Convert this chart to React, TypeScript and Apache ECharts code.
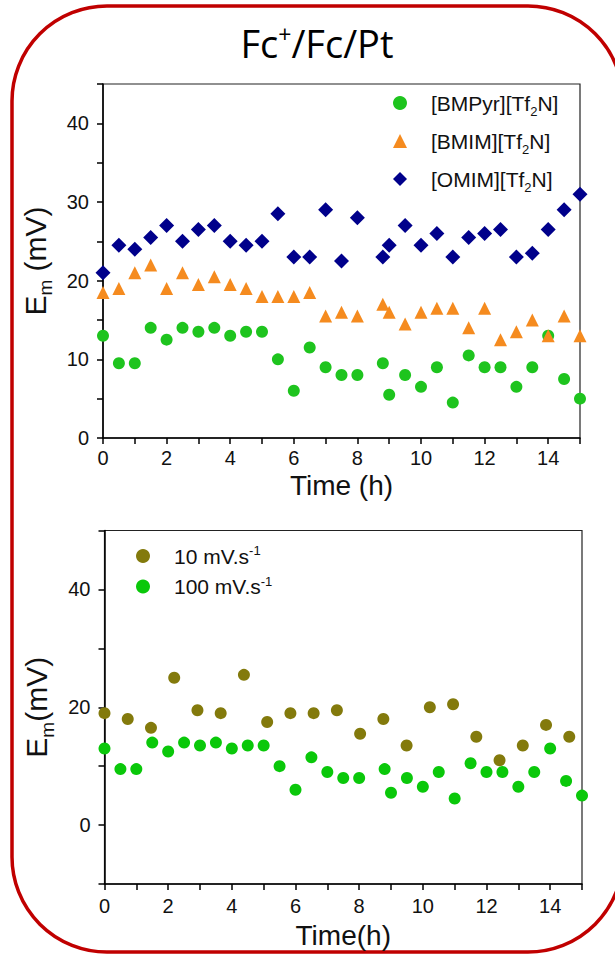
import React, { useEffect, useRef } from "react";
import * as echarts from "echarts";

const timesTop = [0, 0.5, 1, 1.5, 2, 2.5, 3, 3.5, 4, 4.5, 5, 5.5, 6, 6.5, 7, 7.5, 8, 8.8, 9, 9.5, 10, 10.5, 11, 11.5, 12, 12.5, 13, 13.5, 14, 14.5, 15];
const bmpyr = [13, 9.5, 9.5, 14, 12.5, 14, 13.5, 14, 13, 13.5, 13.5, 10, 6, 11.5, 9, 8, 8, 9.5, 5.5, 8, 6.5, 9, 4.5, 10.5, 9, 9, 6.5, 9, 13, 7.5, 5];
const bmim = [18.5, 19, 21, 22, 19, 21, 19.5, 20.5, 19.5, 19, 18, 18, 18, 18.5, 15.5, 16, 15.5, 17, 16, 14.5, 16, 16.5, 16.5, 14, 16.5, 12.5, 13.5, 15, 13, 15.5, 13];
const omim = [21, 24.5, 24, 25.5, 27, 25, 26.5, 27, 25, 24.5, 25, 28.5, 23, 23, 29, 22.5, 28, 23, 24.5, 27, 24.5, 26, 23, 25.5, 26, 26.5, 23, 23.5, 26.5, 29, 31];

const timesSlow = [0, 0.73, 1.46, 2.19, 2.92, 3.65, 4.38, 5.11, 5.84, 6.57, 7.3, 8.03, 8.76, 9.49, 10.22, 10.95, 11.68, 12.41, 13.14, 13.87, 14.6];
const slow = [19, 18, 16.5, 25, 19.5, 19, 25.5, 17.5, 19, 19, 19.5, 15.5, 18, 13.5, 20, 20.5, 15, 11, 13.5, 17, 15];
const fast = bmpyr;

const FONT = "Liberation Sans, Arial, sans-serif";

function pairs(xs: number[], ys: number[]) {
  return xs.map((x, i) => [x, ys[i]]);
}

export default function App() {
  const ref = useRef<HTMLDivElement>(null);
  useEffect(() => {
    document.body.style.margin = "0";
    const chart = echarts.init(ref.current!, null, { renderer: "svg" });
    const richBase = {
      a: { fontSize: 21, fontFamily: FONT, color: "#111", lineHeight: 24 },
      sub: { fontSize: 13, fontFamily: FONT, color: "#111", lineHeight: 10, verticalAlign: "top", padding: [14, 0, 0, 0] },
      sup: { fontSize: 13, fontFamily: FONT, color: "#111", lineHeight: 10, verticalAlign: "top" },
    };
    const nameRich = {
      a: { fontSize: 30, fontFamily: FONT, color: "#111", lineHeight: 32 },
      sub: { fontSize: 19, fontFamily: FONT, color: "#111", lineHeight: 10, verticalAlign: "top", padding: [17, 0, 0, 0] },
    };
    const axisCommon = {
      axisLine: { onZero: false, lineStyle: { color: "#000", width: 1.5 } },
      axisTick: { show: true, inside: false, length: 6, lineStyle: { color: "#000", width: 1.5 } },
      splitLine: { show: false },
      axisLabel: { fontSize: 20, fontFamily: FONT, color: "#111" },
    };
    const option: any = {
      animation: false,
      backgroundColor: "#fff",
      graphic: [
        {
          type: "rect",
          shape: { x: 12, y: 6, width: 611, height: 946, r: 95 },
          style: { fill: "none", stroke: "#c00000", lineWidth: 3.5 },
          silent: true,
        },
        {
          type: "text",
          x: 317,
          y: 64,
          style: {
            text: "{a|Fc}{s|+}{a|/Fc/Pt}",
            textAlign: "center",
            textVerticalAlign: "bottom",
            rich: {
              a: { fontSize: 38, fontFamily: "Open Sans, sans-serif", color: "#000", lineHeight: 42 },
              s: { fontSize: 23, fontFamily: "Open Sans, sans-serif", color: "#000", lineHeight: 20, verticalAlign: "top" },
            },
          },
        },
      ],
      grid: [
        { left: 103, top: 84, width: 477, height: 354, show: true, borderColor: "#222", borderWidth: 1.2, backgroundColor: "transparent" },
        { left: 104.5, top: 530.5, width: 477.5, height: 353.5, show: true, borderColor: "#222", borderWidth: 1.2, backgroundColor: "transparent" },
      ],
      xAxis: [
        {
          ...axisCommon,
          type: "value",
          gridIndex: 0,
          min: 0,
          max: 15,
          interval: 1,
          axisLabel: { ...axisCommon.axisLabel, margin: 10, formatter: (v: number) => (v % 2 === 0 ? String(v) : "") },
          name: "Time (h)",
          nameLocation: "middle",
          nameGap: 33,
          nameTextStyle: { fontSize: 28, fontFamily: FONT, color: "#111" },
        },
        {
          ...axisCommon,
          type: "value",
          gridIndex: 1,
          min: 0,
          max: 15,
          interval: 1,
          axisLabel: { ...axisCommon.axisLabel, margin: 12, formatter: (v: number) => (v % 2 === 0 ? String(v) : "") },
          name: "Time(h)",
          nameLocation: "middle",
          nameGap: 37,
          nameTextStyle: { fontSize: 28, fontFamily: FONT, color: "#111" },
        },
      ],
      yAxis: [
        {
          ...axisCommon,
          type: "value",
          gridIndex: 0,
          min: 0,
          max: 45,
          interval: 5,
          axisLabel: { ...axisCommon.axisLabel, margin: 14, formatter: (v: number) => (v % 10 === 0 ? String(v) : "") },
          name: "{a|E}{sub|m}{a| (mV)}",
          nameLocation: "middle",
          nameRotate: 90,
          nameGap: 52,
          nameTextStyle: { rich: nameRich },
        },
        {
          ...axisCommon,
          type: "value",
          gridIndex: 1,
          min: -10,
          max: 50,
          interval: 10,
          axisLabel: {
            ...axisCommon.axisLabel,
            margin: 14,
            formatter: (v: number) => (v >= 0 && v <= 40 && v % 20 === 0 ? String(v) : ""),
          },
          name: "{a|E}{sub|m}{a|(mV)}",
          nameLocation: "middle",
          nameRotate: 90,
          nameGap: 52,
          nameTextStyle: { rich: nameRich },
        },
      ],
      legend: [
        {
          orient: "vertical",
          left: 388,
          top: 86,
          itemWidth: 14,
          itemHeight: 14,
          itemGap: 11,
          data: ["BMPyr", "BMIM", "OMIM"],
          formatter: (n: string) => `{a|[${n}][Tf}{sub|2}{a|N]}`,
          textStyle: { rich: richBase, padding: [0, 0, 0, 19] },
        },
        {
          orient: "vertical",
          left: 131,
          top: 539,
          itemWidth: 14,
          itemHeight: 14,
          itemGap: 8,
          data: ["10", "100"],
          formatter: (n: string) => `{a|${n} mV.s}{sup|-1}`,
          textStyle: { rich: richBase, padding: [0, 0, 0, 19] },
        },
      ],
      series: [
        {
          name: "BMPyr",
          type: "scatter",
          xAxisIndex: 0,
          yAxisIndex: 0,
          symbol: "circle",
          symbolSize: 12,
          itemStyle: { color: "#1ec41e", opacity: 1 },
          data: pairs(timesTop, bmpyr),
        },
        {
          name: "BMIM",
          type: "scatter",
          xAxisIndex: 0,
          yAxisIndex: 0,
          symbol: "triangle",
          symbolSize: 13,
          itemStyle: { color: "#f58b1f", opacity: 1 },
          data: pairs(timesTop, bmim),
        },
        {
          name: "OMIM",
          type: "scatter",
          xAxisIndex: 0,
          yAxisIndex: 0,
          symbol: "diamond",
          symbolSize: 15,
          itemStyle: { color: "#00008b", opacity: 1 },
          data: pairs(timesTop, omim),
        },
        {
          name: "10",
          type: "scatter",
          xAxisIndex: 1,
          yAxisIndex: 1,
          symbol: "circle",
          symbolSize: 12,
          itemStyle: { color: "#837a0c", opacity: 1 },
          data: pairs(timesSlow, slow),
        },
        {
          name: "100",
          type: "scatter",
          xAxisIndex: 1,
          yAxisIndex: 1,
          symbol: "circle",
          symbolSize: 12,
          itemStyle: { color: "#0ac80a", opacity: 1 },
          data: pairs(timesTop, fast),
        },
      ],
    };
    chart.setOption(option);
    return () => chart.dispose();
  }, []);
  return <div ref={ref} style={{ width: 615, height: 954 }} />;
}
